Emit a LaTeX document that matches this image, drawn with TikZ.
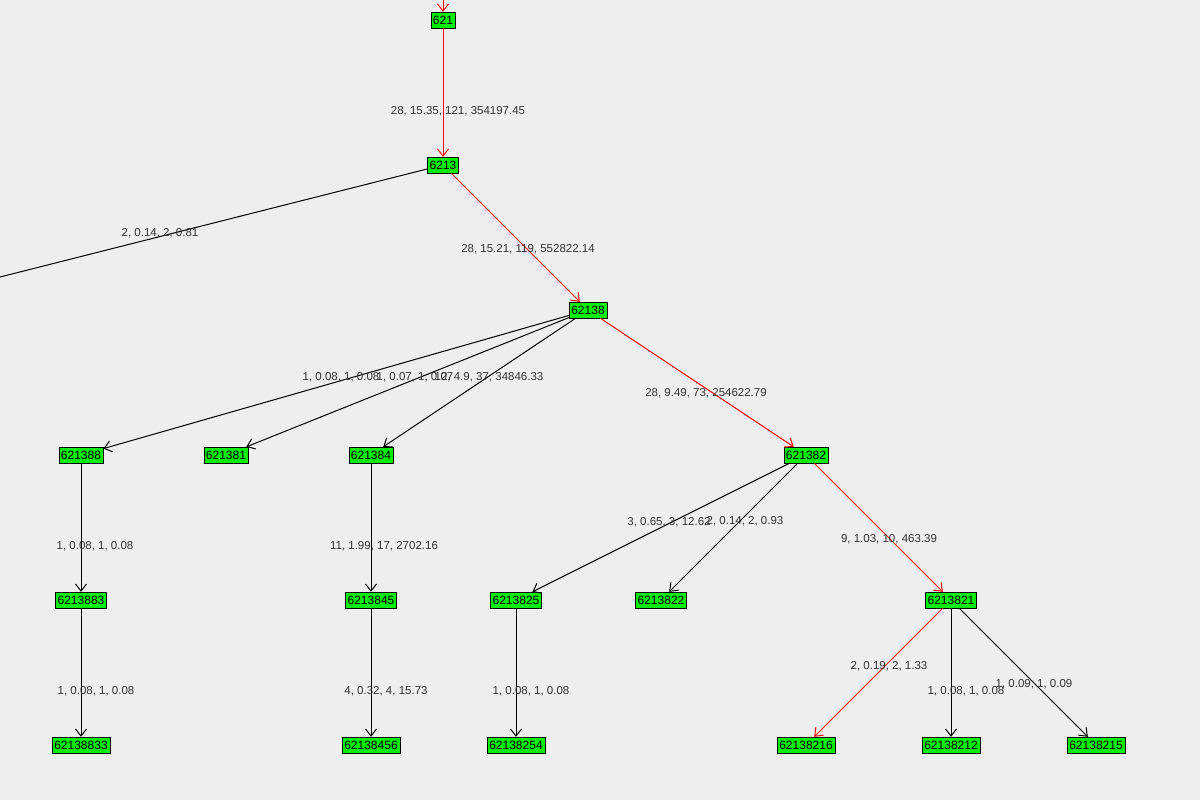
\documentclass[tikz,border=0pt]{standalone}
\usepackage{fontspec}
\setmainfont{Liberation Sans}
\usepackage{tikz}
\usetikzlibrary{arrows.meta, positioning}
\definecolor{nodegreen}{RGB}{0, 238, 0}
\definecolor{bgray}{RGB}{238, 238, 238}

\begin{document}
\begin{tikzpicture}[
    x=1pt, y=-1pt,
    vertex/.style={rectangle, draw=black, fill=nodegreen, inner sep=2.2pt,
                   minimum height=16pt, font=\fontsize{12}{12}\selectfont},
    edge/.style={-{Straight Barb[length=7pt,width=11pt]}, line width=1pt},
    hot/.style={edge, draw=red},
    weight/.style={font=\fontsize{11.5}{12}\selectfont, text=black!80}
]
    \fill[bgray] (0,0) rectangle (1200,800);
    \useasboundingbox (0,0) rectangle (1200,800);

    \node[vertex] (n621) at (443,20) {621};
    \node[vertex] (n6213) at (443,165) {6213};
    \node[vertex] (n62138) at (588,310) {62138};
    \node[vertex] (n621388) at (81,455) {621388};
    \node[vertex] (n621381) at (226,455) {621381};
    \node[vertex] (n621384) at (371,455) {621384};
    \node[vertex] (n621382) at (806,455) {621382};
    \node[vertex] (n6213883) at (81,600) {6213883};
    \node[vertex] (n6213845) at (371,600) {6213845};
    \node[vertex] (n6213825) at (516,600) {6213825};
    \node[vertex] (n6213822) at (661,600) {6213822};
    \node[vertex] (n6213821) at (951,600) {6213821};
    \node[vertex] (n62138833) at (81,745) {62138833};
    \node[vertex] (n62138456) at (371,745) {62138456};
    \node[vertex] (n62138254) at (516,745) {62138254};
    \node[vertex] (n62138216) at (806,745) {62138216};
    \node[vertex] (n62138212) at (951,745) {62138212};
    \node[vertex] (n62138215) at (1096,745) {62138215};
    \coordinate (top) at (443,0);
    \coordinate (away) at (0,277);

    \draw[hot] (top) -- (n621);
    \draw[hot] (n621) -- (n6213);
    \draw[edge, -] (n6213) -- (away);
    \draw[hot] (n6213) -- (n62138);
    \draw[edge] (n62138) -- (n621388);
    \draw[edge] (n62138) -- (n621381);
    \draw[edge] (n62138) -- (n621384);
    \draw[hot] (n62138) -- (n621382);
    \draw[edge] (n621388) -- (n6213883);
    \draw[edge] (n621384) -- (n6213845);
    \draw[edge] (n621382) -- (n6213825);
    \draw[edge] (n621382) -- (n6213822);
    \draw[hot] (n621382) -- (n6213821);
    \draw[edge] (n6213883) -- (n62138833);
    \draw[edge] (n6213845) -- (n62138456);
    \draw[edge] (n6213825) -- (n62138254);
    \draw[hot] (n6213821) -- (n62138216);
    \draw[edge] (n6213821) -- (n62138212);
    \draw[edge] (n6213821) -- (n62138215);

    % edge weights
    \node[weight] (w1) at (458,111) {28, 15.35, 121, 354197.45};
    \node[weight] (w2) at (160,233) {2, 0.14, 2, 0.81};
    \node[weight] (w3) at (528,249) {28, 15.21, 119, 552822.14};
    \node[weight] (w4) at (341,377) {1, 0.08, 1, 0.08};
    \node[weight] (w5) at (415,377) {1, 0.07, 1, 0.07};
    \node[weight] (w6) at (489,377) {12, 4.9, 37, 34846.33};
    \node[weight] (w7) at (706,393) {28, 9.49, 73, 254622.79};
    \node[weight] (w8) at (95,546) {1, 0.08, 1, 0.08};
    \node[weight] (w9) at (384,546) {11, 1.99, 17, 2702.16};
    \node[weight] (w10) at (669,522) {3, 0.65, 3, 12.62};
    \node[weight] (w11) at (745,521) {2, 0.14, 2, 0.93};
    \node[weight] (w12) at (889,539) {9, 1.03, 10, 463.39};
    \node[weight] (w13) at (96,691) {1, 0.08, 1, 0.08};
    \node[weight] (w14) at (386,691) {4, 0.32, 4, 15.73};
    \node[weight] (w15) at (531,691) {1, 0.08, 1, 0.08};
    \node[weight] (w16) at (889,666) {2, 0.19, 2, 1.33};
    \node[weight] (w17) at (966,691) {1, 0.08, 1, 0.08};
    \node[weight] (w18) at (1034,684) {1, 0.09, 1, 0.09};
\end{tikzpicture}
\end{document}
